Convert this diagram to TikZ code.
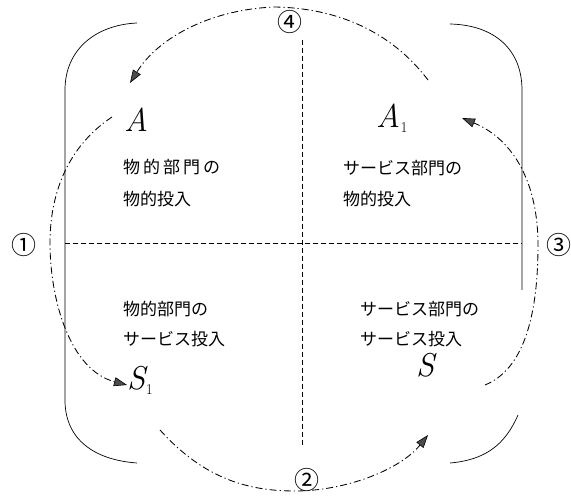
\documentclass[tikz,border=0pt]{standalone}
\usepackage{fontspec}
\newfontfamily\jp{Noto Sans CJK JP}
\usetikzlibrary{arrows.meta}
\newcommand{\subone}[1]{\kern#1\raisebox{-5pt}{\upshape\fontsize{15}{15}\selectfont 1}}
\tikzset{
  bracket/.style={line width=0.7pt},
  divider/.style={line width=0.9pt, dash pattern=on 5pt off 3pt},
  flow/.style={line width=0.85pt, dash pattern=on 7pt off 3pt on 1.2pt off 3pt,
    -{Triangle[length=13pt,width=9pt,fill=black!70,line width=0.6pt]}},
  jtext/.style={anchor=base west, inner sep=0pt, font=\jp\fontsize{17}{20}\selectfont},
  sym/.style={anchor=base west, inner sep=0pt, font=\itshape\fontsize{33}{36}\selectfont},
  num/.style={inner sep=0pt, font=\jp\fontsize{25}{26}\selectfont},
}
\begin{document}
\begin{tikzpicture}[x=1pt,y=-1pt]
\useasboundingbox (0,0) rectangle (571,497);

% solid brackets
\draw[bracket] (137,23) .. controls (95,25) and (65,50) .. (65,90) -- (65,400)
  .. controls (65,440) and (95,460) .. (137,463);
\draw[bracket] (450,24) .. controls (495,25) and (522,50) .. (522,90) -- (522,290);
\draw[bracket] (518,415) .. controls (505,445) and (485,460) .. (450,463);

% dividers
\draw[divider] (65,243) -- (522,243);
\draw[divider] (302,40) -- (302,445);

% symbols
\node[sym] (A)  at (124,132) {A};
\node[sym] (A1) at (376,128) {A\subone{0.5pt}};
\node[sym] (S)  at (416,377) {S};
\node[sym] (S1) at (127,390) {S\subone{0.5pt}};

% texts
\node[jtext] (tl1) at (123,173.5) {物\hspace{3pt}的\hspace{3pt}部\hspace{3pt}門\hspace{3pt}の};
\node[jtext] (tl2) at (123,205.5) {物的投入};
\node[jtext] (tr1) at (343,175) {サービス部門の};
\node[jtext] (tr2) at (343,205.5) {物的投入};
\node[jtext] (bl1) at (123,315.5) {物的部門の};
\node[jtext] (bl2) at (123,345.5) {サービス投入};
\node[jtext] (br1) at (360,315.5) {サービス部門の};
\node[jtext] (br2) at (360,345.5) {サービス投入};

% circled numbers
\node[num] (n1) at (24,245) {①};
\node[num] (n2) at (307,480) {②};
\node[num] (n3) at (559,245) {③};
\node[num] (n4) at (290,22) {④};

% flow endpoints
\coordinate (f1s) at (112,117);
\coordinate (f1e) at (127,385);
\coordinate (f2s) at (160,430);
\coordinate (f2e) at (428,435);
\coordinate (f3s) at (485,385);
\coordinate (f3e) at (462,118);
\coordinate (f4s) at (428,80);
\coordinate (f4e) at (130,83);

% flows
\draw[flow] (f1s) .. controls (70,145) and (50,190) .. (50,243)
  .. controls (50,300) and (70,370) .. (f1e);
\draw[flow] (f2s) .. controls (205,480) and (250,491) .. (295,491)
  .. controls (345,491) and (400,470) .. (f2e);
\draw[flow] (f3s) .. controls (522,370) and (538,320) .. (538,245)
  .. controls (538,185) and (515,140) .. (f3e);
\draw[flow] (f4s) .. controls (390,30) and (335,8) .. (275,7)
  .. controls (215,9) and (160,35) .. (f4e);
\end{tikzpicture}
\end{document}
